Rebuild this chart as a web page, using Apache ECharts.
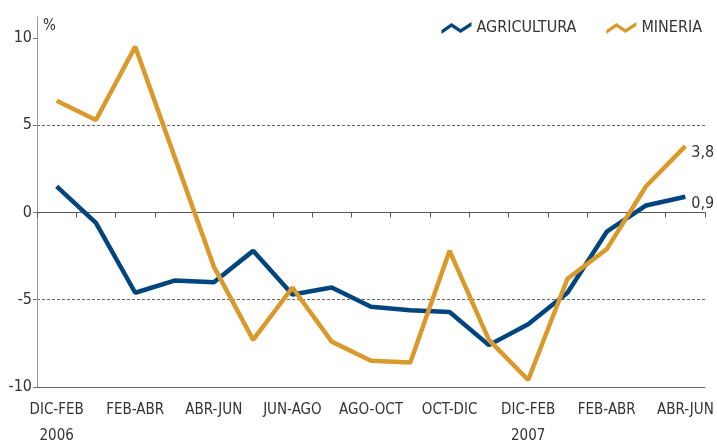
<!DOCTYPE html>
<html>
<head>
<meta charset="utf-8">
<script src="https://cdn.jsdelivr.net/npm/echarts@6/dist/echarts.min.js"></script>
<style>
html,body{margin:0;padding:0;background:#fff;}
#chart{width:717px;height:444px;}
</style>
</head>
<body>
<div id="chart"></div>
<script>
var categories = ['DIC-FEB','ENE-MAR','FEB-ABR','MAR-MAY','ABR-JUN','MAY-JUL','JUN-AGO','JUL-SEP','AGO-OCT','SEP-NOV','OCT-DIC','NOV-ENE','DIC-FEB','ENE-MAR','FEB-ABR','MAR-MAY','ABR-JUN'];
var yearLabels = ['2006','','','','','','','','','','','','2007','','','',''];
var agricultura = [1.5, -0.6, -4.6, -3.9, -4.0, -2.2, -4.7, -4.3, -5.4, -5.6, -5.7, -7.6, -6.4, -4.6, -1.1, 0.4, 0.9];
var mineria = [6.4, 5.3, 9.5, 3.2, -3.1, -7.3, -4.3, -7.4, -8.5, -8.6, -2.2, -7.3, -9.6, -3.8, -2.1, 1.5, 3.8];
var yTicks = [-10, -5, 0, 5, 10];

var FONT = "'Liberation Sans Narrow', 'DejaVu Sans Condensed', 'Roboto', sans-serif";
var BLUE = '#00457E';
var ORANGE = '#D99A2B';
var zig = 'path://M0 9 L10 2 L19 8 L30 1 L30 5 L19 12 L10 6 L0 13 Z';

var chart = echarts.init(document.getElementById('chart'), null, {renderer: 'canvas'});
chart.setOption({
  animation: false,
  backgroundColor: '#fff',
  textStyle: {fontFamily: FONT},
  grid: {left: 37, right: 12, top: 17, bottom: 57, outerBoundsMode: 'none', containLabel: false},
  graphic: [
    {type: 'text', left: 43, top: 19, style: {text: '%', fontFamily: FONT, fontSize: 15, fill: '#333'}}
  ],
  legend: {
    right: 10, top: 15,
    itemWidth: 30, itemHeight: 12, itemGap: 30,
    textStyle: {fontFamily: FONT, fontSize: 16, color: '#333'},
    data: [
      {name: 'AGRICULTURA', icon: zig},
      {name: 'MINERIA', icon: zig}
    ]
  },
  xAxis: [
    {
      type: 'category', data: categories, boundaryGap: true, position: 'bottom',
      axisLine: {onZero: true, lineStyle: {color: '#555', width: 1}},
      axisTick: {show: true, interval: 0, length: 5, lineStyle: {color: '#555'}},
      axisLabel: {show: false},
      splitLine: {show: false}
    },
    {
      type: 'category', data: categories, boundaryGap: true, position: 'bottom',
      axisLine: {onZero: false, lineStyle: {color: '#666', width: 1}},
      axisTick: {show: false},
      axisLabel: {
        interval: 1, margin: 10, color: '#333', fontFamily: FONT, fontSize: 15, lineHeight: 26,
        formatter: function (v, i) { return yearLabels[i] ? v + '\n' + yearLabels[i] : v; }
      },
      splitLine: {show: false}
    }
  ],
  yAxis: {
    type: 'value', min: -10, max: 11.2, interval: 5,
    axisLine: {show: true, lineStyle: {color: '#999', width: 1}},
    axisTick: {show: true, length: 4, customValues: yTicks, lineStyle: {color: '#777'}},
    axisLabel: {customValues: yTicks, color: '#333', fontFamily: FONT, fontSize: 16, margin: 5},
    splitLine: {show: true, showMinLine: false, showMaxLine: false, lineStyle: {color: '#666', type: [3, 2], width: 1}}
  },
  series: [
    {
      name: 'AGRICULTURA', type: 'line', data: agricultura, xAxisIndex: 0,
      showSymbol: false, symbol: 'none', color: BLUE,
      lineStyle: {color: BLUE, width: 4.5},
      endLabel: {show: true, distance: 6, offset: [0, 7], color: '#333', fontFamily: FONT, fontSize: 16,
        formatter: function (p) { return String(p.value).replace('.', ','); }}
    },
    {
      name: 'MINERIA', type: 'line', data: mineria, xAxisIndex: 0,
      showSymbol: false, symbol: 'none', color: ORANGE,
      lineStyle: {color: ORANGE, width: 4.5},
      endLabel: {show: true, distance: 6, offset: [0, 7], color: '#333', fontFamily: FONT, fontSize: 16,
        formatter: function (p) { return String(p.value).replace('.', ','); }}
    }
  ]
});
</script>
</body>
</html>
